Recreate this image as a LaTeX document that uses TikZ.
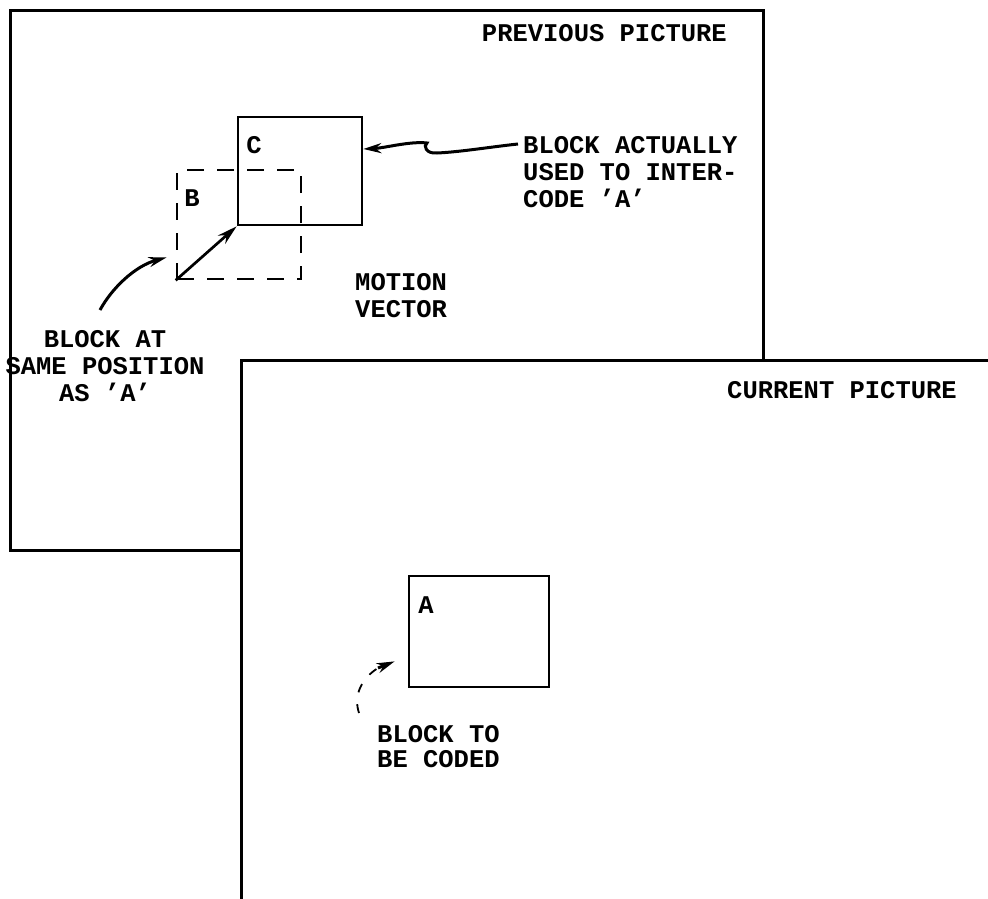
\documentclass[tikz,border=0pt]{standalone}
\usepackage{fontspec}
\setmainfont{Liberation Mono}
\usetikzlibrary{arrows.meta}
\tikzset{
  txt/.style={font=\bfseries\fontsize{25.5}{27}\selectfont, inner sep=0pt, align=left},
  blk/.style={draw, line width=2.7pt, rectangle, inner sep=0pt},
  dashblk/.style={blk, dash pattern=on 17pt off 13pt},
  framebox/.style={draw, line width=3pt, rectangle, inner sep=0pt},
  lead/.style={line width=3pt, -{Stealth[length=18pt,width=10pt]}},
  vec/.style={line width=2.7pt, -{Stealth[length=20pt,width=11pt]}},
  faint/.style={line width=1.8pt, dash pattern=on 9pt off 12pt}
}
\begin{document}
\begin{tikzpicture}[x=1pt,y=-1pt]
\useasboundingbox (0,0) rectangle (988,899);
% previous picture frame
\node[framebox, minimum width=753, minimum height=539] (prev) at (386.5,280.5) {};
% current picture frame (covers the previous one)
\fill[white] (241,360) rectangle (995,905);
\draw[line width=3pt] (241,905) -- (241,360) -- (995,360);
\node[txt, anchor=east] (prevlbl) at (727,33) {PREVIOUS PICTURE};
\node[txt, anchor=west] (currlbl) at (727,390) {CURRENT PICTURE};
% blocks
\node[dashblk, minimum width=124, minimum height=109] (B) at (239,224.5) {};
\node[blk, minimum width=124, minimum height=108] (C) at (300,171) {};
\node[blk, minimum width=140, minimum height=111] (A) at (479,631.5) {};
\node[txt] (Clbl) at (254,145) {C};
\node[txt] (Blbl) at (192,198) {B};
\node[txt] (Albl) at (426,605) {A};
% motion vector
\draw[vec] (B.south west) -- (C.south west);
% texts
\node[txt, anchor=north west] (actual) at (523,136) {BLOCK ACTUALLY\\USED TO INTER-\\CODE 'A'};
\node[txt, anchor=north west] (motion) at (355,273) {MOTION\\VECTOR};
\node[txt, anchor=north, align=center] (same) at (105,330) {BLOCK AT\\SAME POSITION\\AS 'A'};
\node[txt, anchor=north west, font=\bfseries\fontsize{25.5}{25}\selectfont] (tobe) at (377,725) {BLOCK TO\\BE CODED};
% leaders
\draw[lead] ([shift={(-5,8)}]actual.north west) .. controls (490,147) and (460,152) .. (437,153)
  .. controls (426,154) and (423,146) .. (427,143)
  .. controls (410,141) and (385,148) .. ([yshift=22pt]C.east);
\draw[lead] ([shift={(-5,-20)}]same.north) .. controls (112,288) and (135,266) .. ([shift={(-9,-23)}]B.south west);
\draw[faint] ([shift={(-18,-12)}]tobe.north west) .. controls (353,695) and (362,678) .. (378,668);
\draw[lead] (378,668) -- ([shift={(-13,-27)}]A.south west);
\end{tikzpicture}
\end{document}
